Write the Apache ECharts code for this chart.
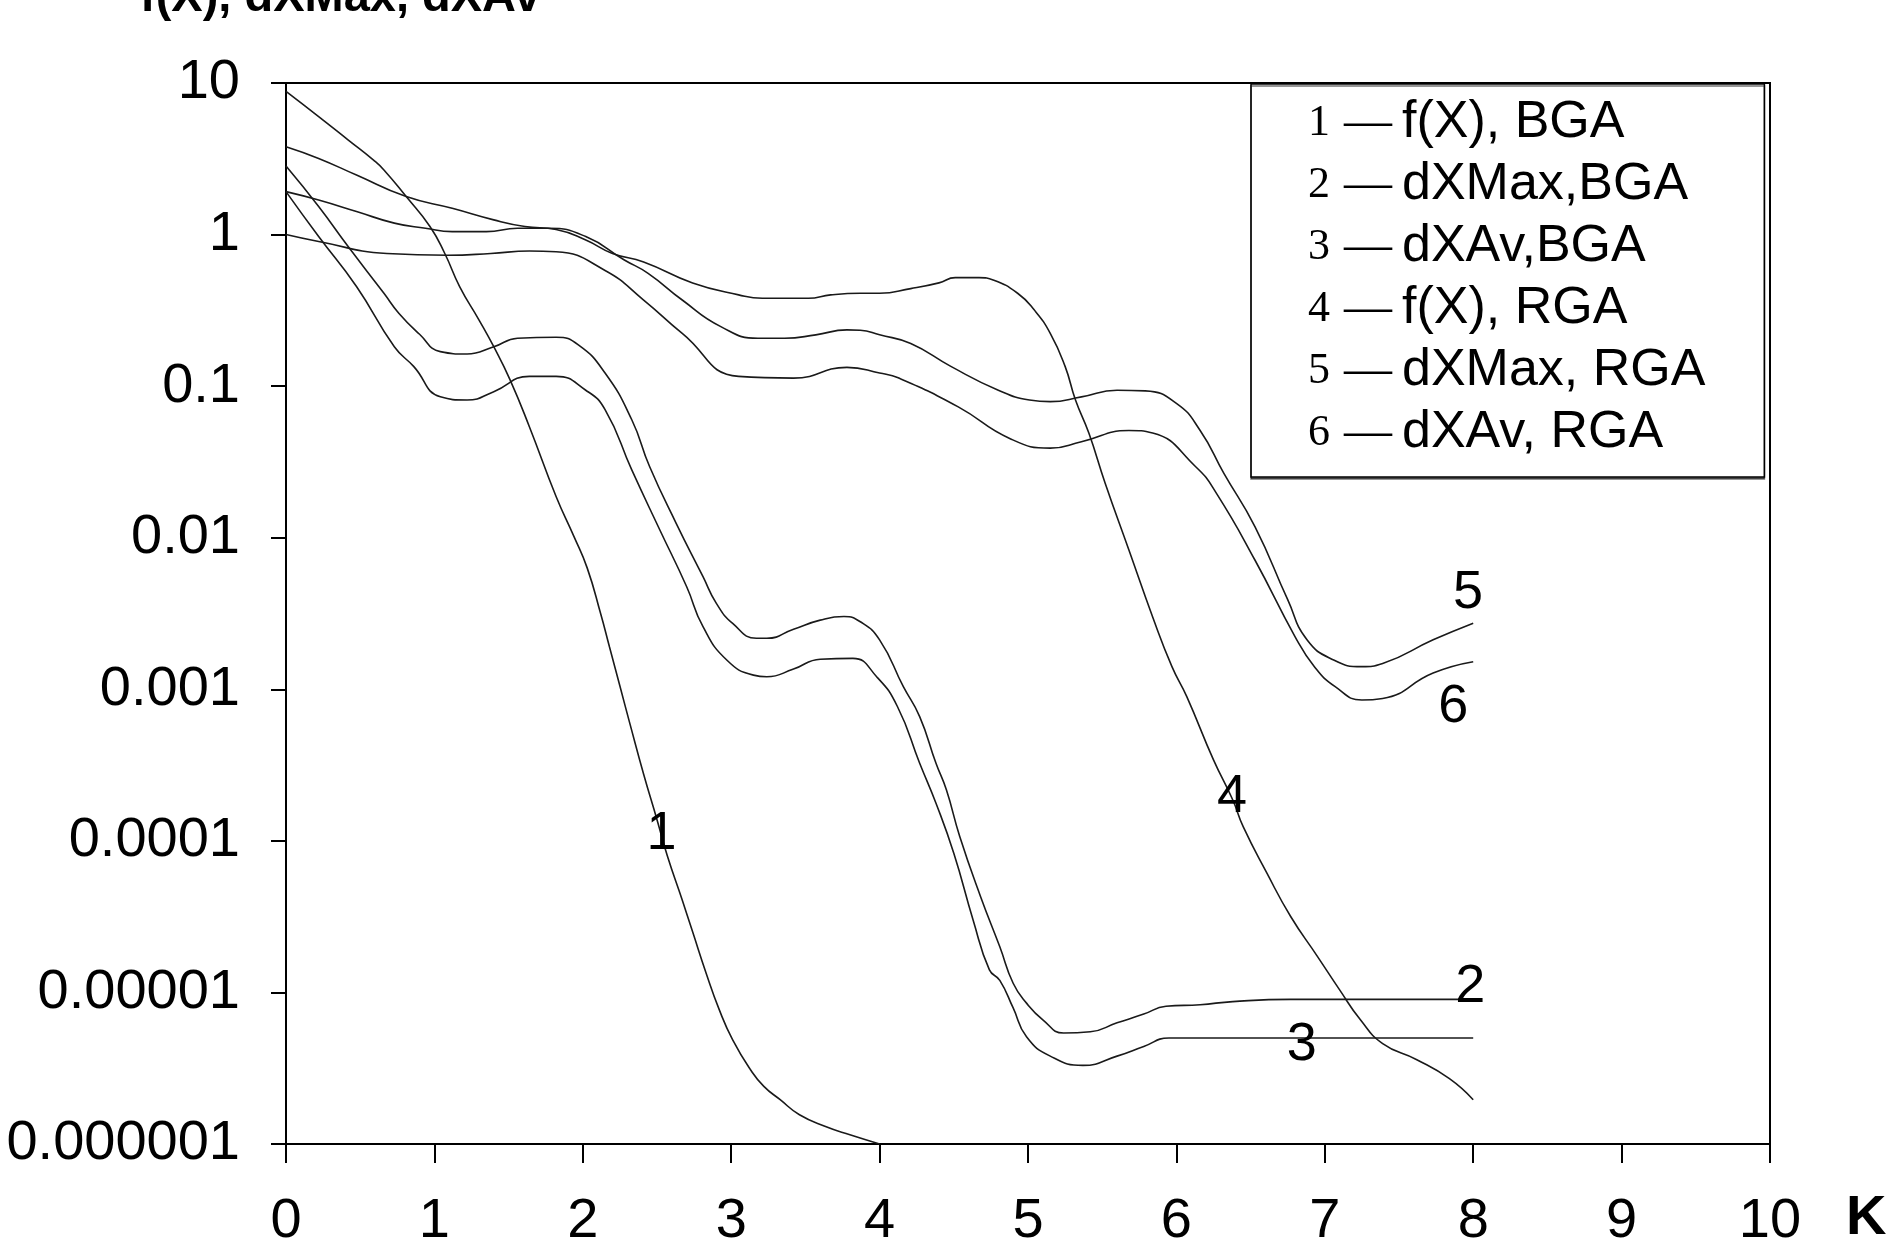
<!DOCTYPE html>
<html>
<head>
<meta charset="utf-8">
<script src="https://cdn.jsdelivr.net/npm/echarts@6/dist/echarts.min.js"></script>
<style>
html,body{margin:0;padding:0;background:#fff;}
#chart{width:1892px;height:1251px;}
</style>
</head>
<body>
<div id="chart"></div>
<script>
// ---- data (K, value) ----
const seriesNames = ['f(X), BGA', 'dXMax,BGA', 'dXAv,BGA', 'f(X), RGA', 'dXMax, RGA', 'dXAv, RGA'];
const seriesNums = ['1', '2', '3', '4', '5', '6'];

const c1K = [0, 0.22, 0.42, 0.59, 0.66, 0.81, 0.97, 1.07, 1.17, 1.30, 1.40, 1.51, 1.64, 1.82, 1.94, 2.03, 2.12, 2.18, 2.25, 2.32, 2.41, 2.50, 2.57, 2.67, 2.74, 2.83, 2.92, 3.01, 3.13, 3.22, 3.33, 3.46, 3.64, 3.80, 4.0];
const c1V = [8.8, 6.0, 4.2, 3.1, 2.67, 1.78, 1.13, 0.75, 0.454, 0.274, 0.182, 0.11, 0.054, 0.0187, 0.0102, 0.0063, 0.00316, 0.0019, 0.00105, 0.00058, 0.000275, 0.000138, 0.0000794, 0.0000407, 0.0000251, 0.0000135, 0.00000767, 0.00000486, 0.00000309, 0.0000024, 0.00000196, 0.00000156, 0.0000013, 0.00000115, 0.000001];

const c2K = [0, 0.22, 0.42, 0.66, 0.76, 0.9, 1.04, 1.22, 1.40, 1.56, 1.82, 1.97, 2.15, 2.33, 2.45, 2.63, 2.81, 2.90, 3.01, 3.17, 3.24, 3.42, 3.60, 3.76, 3.87, 4.00, 4.16, 4.27, 4.38, 4.45, 4.54, 4.68, 4.81, 4.90, 4.99, 5.10, 5.24, 5.42, 5.60, 5.78, 5.93, 6.16, 6.38, 6.77, 7.06, 8.0];
const c2V = [2.83, 1.53, 0.83, 0.41, 0.303, 0.22, 0.169, 0.163, 0.182, 0.207, 0.21, 0.187, 0.122, 0.06, 0.0295, 0.0124, 0.00553, 0.00369, 0.00272, 0.00217, 0.00217, 0.00249, 0.00286, 0.00302, 0.00279, 0.00212, 0.00104, 0.00066, 0.000325, 0.000217, 0.000107, 0.000043, 0.00002, 0.0000115, 0.0000085, 0.0000066, 0.0000054, 0.0000055, 0.0000063, 0.0000072, 0.0000081, 0.0000083, 0.0000087, 0.000009, 0.000009, 0.000009];

const c3K = [0, 0.22, 0.475, 0.73, 0.86, 1.04, 1.22, 1.40, 1.64, 1.82, 2.02, 2.15, 2.33, 2.52, 2.70, 2.81, 2.97, 3.15, 3.24, 3.42, 3.60, 3.82, 3.98, 4.12, 4.27, 4.38, 4.50, 4.63, 4.74, 4.81, 4.90, 4.99, 5.15, 5.37, 5.60, 5.78, 5.95, 8.0];
const c3V = [1.92, 0.97, 0.454, 0.182, 0.135, 0.085, 0.081, 0.092, 0.116, 0.116, 0.094, 0.07, 0.028, 0.0112, 0.00475, 0.00259, 0.00156, 0.00124, 0.00121, 0.00136, 0.00158, 0.0016, 0.00121, 0.00077, 0.000325, 0.000177, 0.0000828, 0.0000301, 0.0000141, 0.000012, 0.0000079, 0.0000051, 0.0000038, 0.0000033, 0.0000038, 0.0000044, 0.000005, 0.000005];

const c4K = [0, 0.22, 0.475, 0.81, 1.12, 1.40, 1.61, 1.82, 2.02, 2.20, 2.41, 2.74, 3.05, 3.21, 3.52, 3.67, 3.87, 4.00, 4.21, 4.40, 4.51, 4.67, 4.77, 4.93, 5.04, 5.15, 5.25, 5.32, 5.41, 5.52, 5.68, 5.84, 5.97, 6.07, 6.25, 6.38, 6.45, 6.61, 6.77, 6.95, 7.10, 7.24, 7.39, 7.62, 7.84, 8.0];
const c4V = [3.8, 3.18, 2.47, 1.78, 1.49, 1.25, 1.13, 1.08, 0.92, 0.75, 0.66, 0.48, 0.40, 0.38, 0.38, 0.40, 0.41, 0.41, 0.44, 0.48, 0.52, 0.52, 0.50, 0.41, 0.32, 0.223, 0.135, 0.081, 0.049, 0.0229, 0.0083, 0.003, 0.00141, 0.000895, 0.000342, 0.000186, 0.000124, 0.0000612, 0.0000317, 0.0000173, 0.0000104, 0.0000066, 0.0000046, 0.0000036, 0.0000027, 0.00000196];

const c5K = [0, 0.22, 0.475, 0.73, 0.94, 1.12, 1.35, 1.56, 1.77, 2.02, 2.28, 2.44, 2.67, 2.93, 3.18, 3.36, 3.57, 3.78, 3.87, 4.00, 4.21, 4.48, 4.80, 5.01, 5.15, 5.36, 5.60, 5.79, 6.00, 6.16, 6.32, 6.53, 6.75, 6.88, 7.06, 7.25, 7.39, 7.73, 8.0];
const c5V = [1.92, 1.69, 1.42, 1.19, 1.10, 1.045, 1.045, 1.10, 1.10, 0.97, 0.68, 0.555, 0.37, 0.247, 0.207, 0.207, 0.218, 0.235, 0.234, 0.218, 0.191, 0.135, 0.094, 0.081, 0.079, 0.085, 0.094, 0.093, 0.077, 0.051, 0.0266, 0.0118, 0.0039, 0.00212, 0.00156, 0.00141, 0.00148, 0.00212, 0.00273];

const c6K = [0, 0.22, 0.68, 1.09, 1.38, 1.64, 1.82, 2.15, 2.41, 2.67, 3.05, 3.42, 3.78, 4.00, 4.13, 4.53, 4.88, 5.15, 5.36, 5.68, 5.84, 6.13, 6.27, 6.53, 6.80, 6.93, 7.07, 7.25, 7.39, 7.73, 8.0];
const c6V = [1.0, 0.90, 0.75, 0.73, 0.75, 0.78, 0.77, 0.58, 0.37, 0.223, 0.116, 0.113, 0.133, 0.122, 0.113, 0.073, 0.045, 0.039, 0.043, 0.051, 0.049, 0.0294, 0.0196, 0.0071, 0.00222, 0.00141, 0.00104, 0.00085, 0.00087, 0.00128, 0.00152];

// curve number annotations (data coordinates)
const tagText = ['1', '2', '3', '4', '5', '6'];
const tagK = [2.53, 7.98, 6.845, 6.375, 7.965, 7.865];
const tagV = [0.00011, 0.0000109, 0.0000045, 0.000195, 0.00433, 0.000766];

// axis tick labels
const xTickLabels = ['0', '1', '2', '3', '4', '5', '6', '7', '8', '9', '10'];
const yTickLabels = ['0.000001', '0.00001', '0.0001', '0.001', '0.01', '0.1', '1', '10'];
const yTitle = 'f(X), dXMax, dXAv';
const xTitle = 'K';

// ---- chart ----
const FONT = "'Liberation Sans', Arial, Helvetica, sans-serif";
const SERIF = "'Liberation Serif', 'Times New Roman', serif";
const LINE = '#1a1a1a';

function zip(k, v) { return k.map((x, i) => [x, v[i]]); }
const curves = [[c1K, c1V], [c2K, c2V], [c3K, c3V], [c4K, c4V], [c5K, c5V], [c6K, c6V]];

const lineSeries = curves.map((c, i) => ({
  name: seriesNames[i],
  type: 'line',
  data: zip(c[0], c[1]),
  showSymbol: false,
  symbol: 'none',
  smooth: 0.5,
  color: LINE,
  lineStyle: { color: LINE, width: 1.6 },
  silent: true,
  z: 3
}));

const tagSeries = {
  name: 'tags',
  type: 'scatter',
  data: tagK.map((k, i) => ({ value: [k, tagV[i]], label: { formatter: tagText[i] } })),
  symbol: 'circle',
  symbolSize: 0.01,
  itemStyle: { color: '#000', opacity: 1 },
  silent: true,
  label: {
    show: true,
    position: 'inside',
    color: '#000',
    opacity: 1,
    textBorderWidth: 0,
    fontSize: 54,
    fontFamily: FONT
  },
  z: 5
};

const chart = echarts.init(document.getElementById('chart'), null, { renderer: 'canvas' });
chart.setOption({
  animation: false,
  backgroundColor: '#fff',
  title: {
    text: yTitle,
    left: 140,
    top: -25,
    padding: 0,
    textStyle: { fontSize: 47, fontWeight: 'bold', color: '#000', fontFamily: FONT }
  },
  grid: {
    left: 286, right: 122, top: 83, bottom: 107,
    show: true, borderColor: '#000', borderWidth: 2, backgroundColor: 'transparent'
  },
  legend: {
    data: seriesNames,
    orient: 'vertical',
    left: 1251,
    top: 84,
    padding: [8, 59, 13, 52],
    itemGap: 0,
    itemWidth: 0,
    itemHeight: 0,
    icon: 'rect',
    selectedMode: false,
    backgroundColor: '#fff',
    borderColor: '#000',
    borderWidth: 1.5,
    shadowColor: 'rgba(0,0,0,0.55)',
    shadowOffsetX: 0,
    shadowOffsetY: 2,
    shadowBlur: 0,
    formatter: function (name) {
      const i = seriesNames.indexOf(name);
      return '{n|' + seriesNums[i] + '}{d|\u2014}{t|' + name + '}';
    },
    textStyle: {
      color: '#000',
      fontSize: 52,
      lineHeight: 62,
      rich: {
        n: { fontFamily: SERIF, fontSize: 44, width: 30, height: 62, lineHeight: 62, color: '#000' },
        d: { fontFamily: SERIF, fontSize: 48, width: 58, height: 62, lineHeight: 62, color: '#000', padding: [0, 0, 0, 6] },
        t: { fontFamily: FONT, fontSize: 52, height: 62, lineHeight: 62, color: '#000' }
      }
    }
  },
  xAxis: {
    type: 'value',
    min: 0,
    max: 10,
    interval: 1,
    name: xTitle,
    nameLocation: 'end',
    nameGap: 76,
    nameTextStyle: {
      fontSize: 56, fontWeight: 'bold', color: '#000', fontFamily: FONT,
      verticalAlign: 'top', padding: [47, 0, 0, 0]
    },
    axisLine: { show: true, onZero: false, lineStyle: { color: '#000', width: 2 } },
    axisTick: { show: true, inside: false, length: 19, lineStyle: { color: '#000', width: 2 } },
    axisLabel: {
      show: true, fontSize: 56, color: '#000', fontFamily: FONT, margin: 50,
      formatter: function (v) { return xTickLabels[Math.round(v)]; }
    },
    splitLine: { show: false }
  },
  yAxis: {
    type: 'log',
    logBase: 10,
    min: 0.000001,
    max: 10,
    splitNumber: 7,
    axisLine: { show: true, lineStyle: { color: '#000', width: 2 } },
    axisTick: { show: true, inside: false, length: 15, lineStyle: { color: '#000', width: 2 } },
    minorTick: { show: false },
    axisLabel: {
      show: true, fontSize: 56, color: '#000', fontFamily: FONT, margin: 46,
      formatter: function (v) {
        const e = Math.round(Math.log10(v));
        return yTickLabels[e + 6];
      }
    },
    splitLine: { show: false }
  },
  series: lineSeries.concat([tagSeries])
});
</script>
</body>
</html>
